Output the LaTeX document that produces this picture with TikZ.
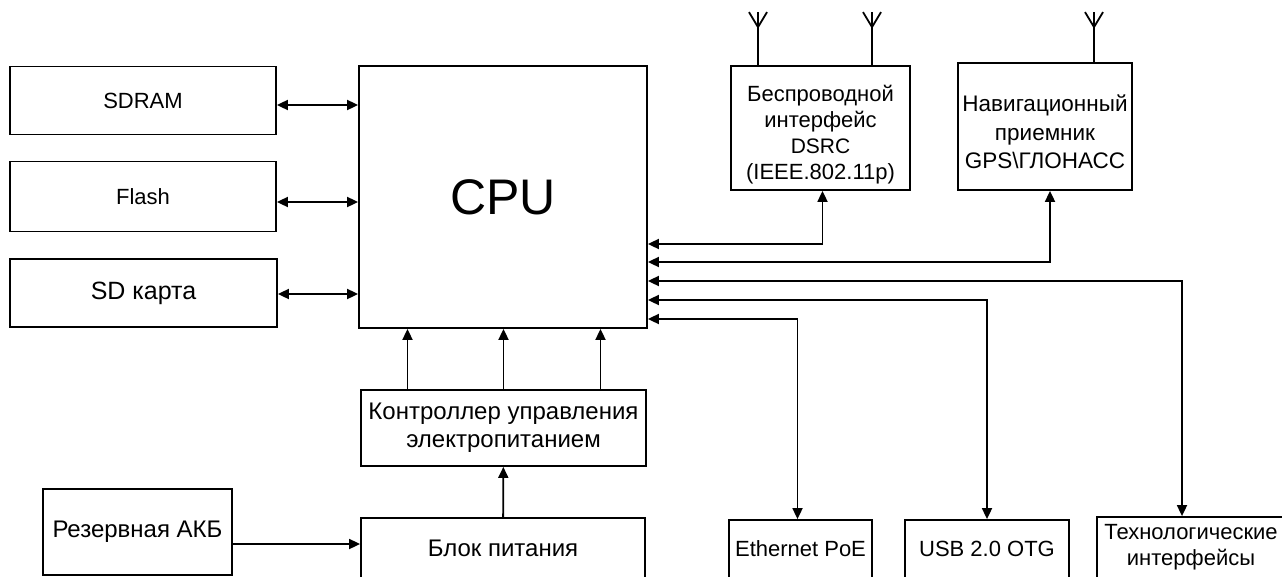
\documentclass[tikz,border=0pt]{standalone}
\usepackage{fontspec}
\setmainfont{Liberation Sans}
\usetikzlibrary{arrows.meta}

\begin{document}
\begin{tikzpicture}[
  x=1pt, y=-1pt, font=\fontsize{22}{26}\selectfont,
  box/.style={draw, line width=1.8pt, align=center, inner sep=2pt},
  big/.style={font=\fontsize{24}{28}\selectfont},
  flow/.style={-{Triangle[length=11pt,width=10pt]}, line width=1.8pt},
  both/.style={{Triangle[length=11pt,width=10pt]}-{Triangle[length=11pt,width=10pt]}, line width=1.8pt},
  ant/.style={line width=1.8pt},
]
\useasboundingbox (0,0) rectangle (1282,576);

% ---------------- memory
\node[box, minimum width=266pt, minimum height=68pt] (sdram)  at (143,100.5) {SDRAM};
\node[box, minimum width=266pt, minimum height=70pt] (flash)  at (143,196.5) {Flash};
\node[box, minimum width=267pt, minimum height=68pt, font=\fontsize{25}{28}\selectfont] (sdcard) at (143.5,293) {SD карта};

% ---------------- core
\node[box, minimum width=288pt, minimum height=262pt, font=\fontsize{50}{54}\selectfont] (cpu) at (503,197) {CPU};
\node[box, minimum width=179pt, minimum height=124pt] (dsrc) at (820.5,128)
  {\rule{0pt}{30pt}Беспроводной\\интерфейс\\{\fontsize{21}{24}\selectfont DSRC}\\(IEEE.802.11p)};
\node[box, minimum width=174pt, minimum height=127pt, font=\fontsize{22.5}{28.5}\selectfont] (gnss) at (1045,126.5)
  {\rule{0pt}{28pt}Навигационный\\приемник\\GPS\textbackslash ГЛОНАСС};

% ---------------- power
\node[box, big, minimum width=285pt, minimum height=76pt] (pmc)  at (503.5,428) {Контроллер управления\\электропитанием};
\node[box, big, minimum width=284pt, minimum height=60pt] (psu)  at (503,548) {Блок питания};
\node[box, big, minimum width=189pt, minimum height=86pt] (akb)  at (137.5,532) {Резервная АКБ};

% ---------------- interfaces
\node[box, minimum width=143pt, minimum height=58pt] (eth)  at (800.5,549) {Ethernet PoE};
\node[box, minimum width=164pt, minimum height=58pt] (usb)  at (987,549) {USB 2.0 OTG};
\node[box, minimum width=188pt, minimum height=61pt] (tech) at (1191,547.5) {Технологические\\интерфейсы};

% ---------------- antennas
\draw[ant] ([xshift=-62.5pt]dsrc.north) -- ++(0,-53) ++(0,15) -- ++(-9,-15) ++(9,15) -- ++(9,-15);
\draw[ant] ([xshift=51.5pt]dsrc.north) -- ++(0,-53) ++(0,15) -- ++(-9,-15) ++(9,15) -- ++(9,-15);
\draw[ant] ([xshift=49pt]gnss.north) -- ++(0,-50) ++(0,15) -- ++(-9,-15) ++(9,15) -- ++(9,-15);

% ---------------- flows
\draw[both] ([yshift=-4.5pt]sdram.east) -- ([yshift=-4.5pt]sdram.east -| cpu.west);
\draw[both] ([yshift=-5.5pt]flash.east) -- ([yshift=-5.5pt]flash.east -| cpu.west);
\draw[both] ([yshift=-1pt]sdcard.east) -- ([yshift=-1pt]sdcard.east -| cpu.west);

\draw[both] ([yshift=-47pt]cpu.east) -| ([xshift=2pt]dsrc.south);
\draw[both] ([yshift=-65pt]cpu.east) -| ([xshift=5pt]gnss.south);
\draw[both] ([yshift=-84pt]cpu.east) -| ([xshift=-9pt]tech.north);
\draw[both] ([yshift=-103pt]cpu.east) -| (usb.north);
\draw[both] ([yshift=-122pt]cpu.east) -| ([xshift=-3pt]eth.north);

\draw[flow] ([xshift=-96pt]pmc.north) -- ([xshift=-96pt]pmc.north |- cpu.south);
\draw[flow] (pmc.north) -- (pmc.north |- cpu.south);
\draw[flow] ([xshift=97pt]pmc.north) -- ([xshift=97pt]pmc.north |- cpu.south);
\draw[flow] (psu) -- (pmc);
\draw[flow] ([yshift=-12pt]akb.east) -- ([yshift=-12pt]akb.east -| psu.west);

\end{tikzpicture}
\end{document}
